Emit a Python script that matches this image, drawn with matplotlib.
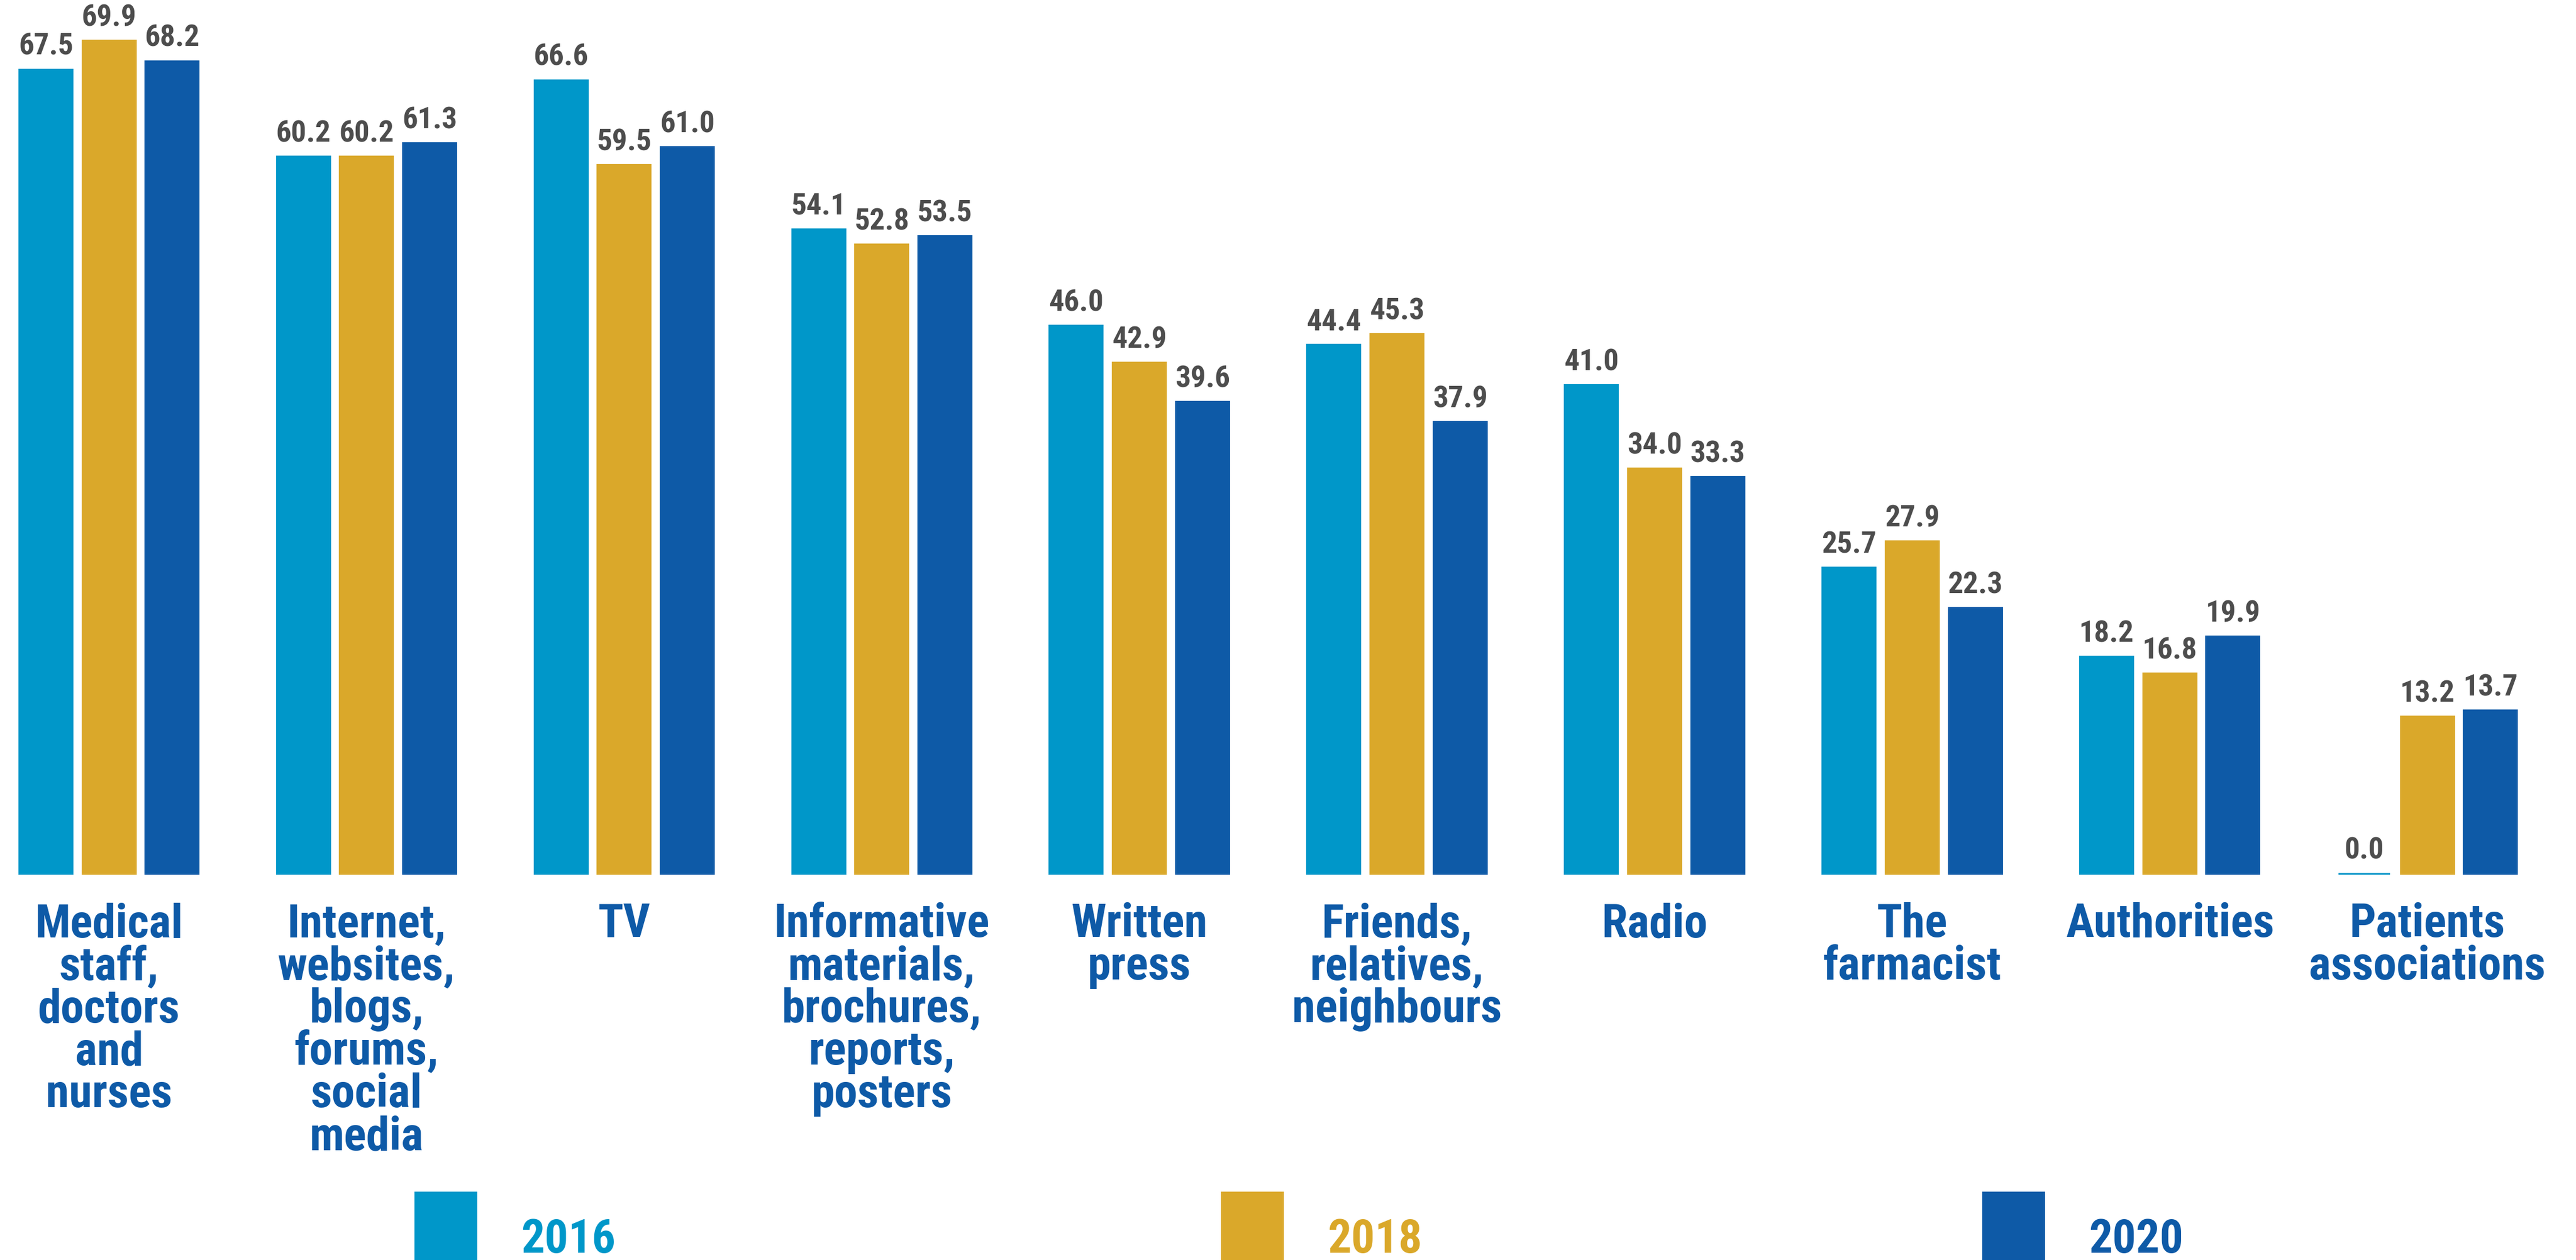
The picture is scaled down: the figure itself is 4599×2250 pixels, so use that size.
import numpy as np
import matplotlib
matplotlib.use('Agg')
import matplotlib.pyplot as plt
from matplotlib import font_manager
from matplotlib.patches import Rectangle

# Data (percent)
categories = [
    'Medical\nstaff,\ndoctors\nand\nnurses',
    'Internet,\nwebsites,\nblogs,\nforums,\nsocial\nmedia',
    'TV',
    'Informative\nmaterials,\nbrochures,\nreports,\nposters',
    'Written\npress',
    'Friends,\nrelatives,\nneighbours',
    'Radio',
    'The\nfarmacist',
    'Authorities',
    'Patients\nassociations',
]
years = ['2016', '2018', '2020']
values_2016 = [67.5, 60.2, 66.6, 54.1, 46.0, 44.4, 41.0, 25.7, 18.2, 0.0]
values_2018 = [69.9, 60.2, 59.5, 52.8, 42.9, 45.3, 34.0, 27.9, 16.8, 13.2]
values_2020 = [68.2, 61.3, 61.0, 53.5, 39.6, 37.9, 33.3, 22.3, 19.9, 13.7]

COLORS = ['#0097C9', '#DAA82A', '#0E5AA7']
LABEL_BLUE = '#0E5AA7'
VALUE_GREY = '#4D4D4D'


def pick_font():
    """Pick a narrow bold family if one is installed."""
    entries = font_manager.fontManager.ttflist
    names = {f.name for f in entries}
    for cand in ['Roboto Condensed', 'Liberation Sans Narrow',
                 'Open Sans Condensed', 'Noto Sans Condensed', 'Arial Narrow']:
        if cand in names:
            return cand, 'normal', True
    for fam in ['Roboto', 'Noto Sans', 'Open Sans', 'DejaVu Sans']:
        for f in entries:
            if f.name == fam and f.stretch in ('condensed', 'semi-condensed',
                                               'extra-condensed'):
                return fam, 'condensed', True
    return 'Roboto', 'normal', False


FAMILY, STRETCH, NARROW = pick_font()
FONT = dict(family=[FAMILY, 'DejaVu Sans'], fontstretch=STRETCH,
            fontweight='bold')
K = 1.0 if NARROW else 0.85


def draw_bars(ax):
    """Grouped bars with value labels on top."""
    series = [values_2016, values_2018, values_2020]
    x = np.arange(len(categories))
    width = 0.2
    step = 0.245
    for i, (vals, color) in enumerate(zip(series, COLORS)):
        pos = x + (i - 1) * step
        bars = ax.bar(pos, vals, width=width, color=color, edgecolor=color,
                      linewidth=1.5, zorder=3)
        for b, v in zip(bars, vals):
            ax.annotate(f'{v:.1f}', (b.get_x() + b.get_width() / 2, v),
                        textcoords='offset points', xytext=(0, 4),
                        ha='center', va='bottom', fontsize=13 * K,
                        color=VALUE_GREY, **FONT)

    ax.set_xticks(x)
    ax.set_xticklabels(categories, fontsize=20 * K, color=LABEL_BLUE,
                       linespacing=0.95, **FONT)
    ax.tick_params(axis='x', length=0, pad=12)
    ax.set_yticks([])
    ax.set_xlim(-0.423, 9.577)
    ax.set_ylim(0, 73.4)
    for s in ax.spines.values():
        s.set_visible(False)
    ax.patch.set_alpha(0)


def draw_legend(fig):
    """Coloured squares with year labels along the bottom edge."""
    W, H = 4599, 2250
    square_x = [742, 2182, 3541]
    for year, color, sx in zip(years, COLORS, square_x):
        fig.patches.append(Rectangle((sx / W, 0), 108 / W, (H - 2152) / H + 0.01,
                                     transform=fig.transFigure,
                                     color=color, zorder=1))
        fig.text((sx + 188) / W, (H - 2237) / H, year, color=color,
                 fontsize=20 * K, ha='left', va='baseline', **FONT)


def main():
    fig = plt.figure(figsize=(15.33, 7.5), dpi=300)
    fig.patch.set_facecolor('white')
    ax = fig.add_axes([0, 0.306, 1, 0.694])
    draw_bars(ax)
    draw_legend(fig)
    fig.savefig('out.png', dpi=300, facecolor='white')


if __name__ == '__main__':
    main()
